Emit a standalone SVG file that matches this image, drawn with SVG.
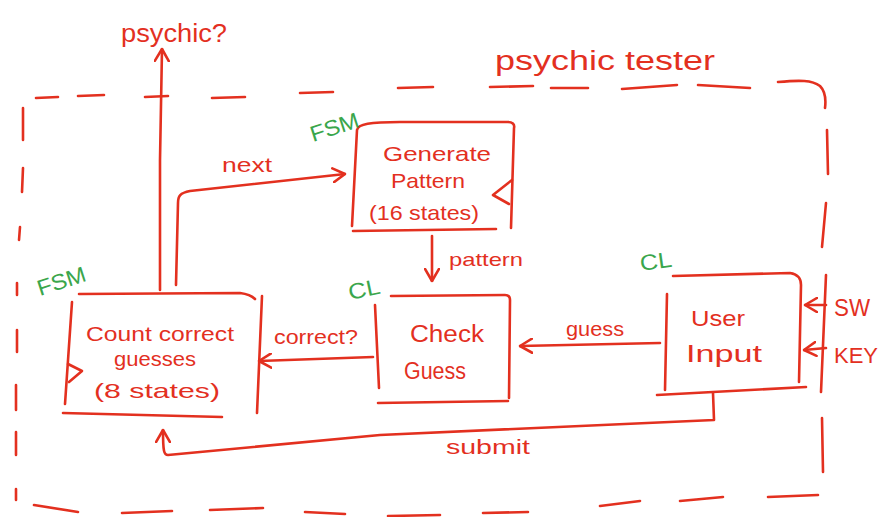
<svg xmlns="http://www.w3.org/2000/svg" width="881" height="517" viewBox="0 0 881 517">
<style>
.l{fill:none;stroke:#e3301f;stroke-width:2.6;stroke-linecap:round;stroke-linejoin:round}
.t{fill:#e3301f;font-family:"Liberation Sans","DejaVu Sans",sans-serif}
.g{fill:#3aa64c;font-family:"Liberation Sans","DejaVu Sans",sans-serif}
</style>
<defs>
<marker id="ah" viewBox="0 0 14 16" refX="13" refY="8" markerWidth="14" markerHeight="16" markerUnits="userSpaceOnUse" orient="auto">
<path d="M1,1 L13,8 L1,15" fill="none" stroke="#e3301f" stroke-width="2.6" stroke-linecap="round" stroke-linejoin="round"/>
</marker>
</defs>
<rect width="881" height="517" fill="#fff"/>

<g id="boundary">
<path class="l" d="M36,98 L58,97 M78,96 L104,95 M145,97 L168,96 M212,98 L245,97 M300,93 L333,92 M398,88 L433,87 M490,87 L533,86 M551,88 L588,88 M622,89 L677,85 M698,85 L750,88 M778,82 C800,80 812,80 820,86 C826,92 826,100 825,108"/>
<path class="l" d="M827,130 L828,174 M826,203 L822,247 M826,275 L821,392 M822,418 L823,472"/>
<path class="l" d="M768,497 L818,495 M680,501 L723,497 M600,506 L640,501 M483,513 L528,512 M388,516 L440,515 M305,512 L345,514 M210,510 L263,508 M122,513 L172,511 M34,505 L78,512"/>
<path class="l" d="M23,108 L23,140 M23,168 L22,192 M20,227 L19,240 M17,283 L17,295 M17,330 L17,352 M16,385 L16,410 M16,432 L16,455 M16,489 L16,500"/>
<text class="t" x="605" y="70" font-size="27" text-anchor="middle" textLength="220" lengthAdjust="spacingAndGlyphs">psychic tester</text>
</g>

<g id="generate">
<path class="l" d="M357,130 C358,124 370,122 400,122 L508,122 C512,122 515,124 514,128 L511,228 M357,130 L352,226 M353,231 L496,229"/>
<path class="l" d="M512,180 L493,195 L509,204"/>
<text class="t" x="437" y="161" font-size="21" text-anchor="middle" textLength="108" lengthAdjust="spacingAndGlyphs">Generate</text>
<text class="t" x="428" y="188" font-size="21" text-anchor="middle" textLength="74" lengthAdjust="spacingAndGlyphs">Pattern</text>
<text class="t" x="424" y="220" font-size="21" text-anchor="middle" textLength="110" lengthAdjust="spacingAndGlyphs">(16 states)</text>
<text class="g" x="313" y="142" font-size="22" transform="rotate(-18 313 142)" textLength="50" lengthAdjust="spacingAndGlyphs">FSM</text>
</g>

<g id="count">
<path class="l" d="M79,294 L240,293 C248,294 252,296 255,299 M262,296 L257,413 M72,302 L65,404 M63,413 L222,417"/>
<path class="l" d="M68,364 L82,371 L69,382"/>
<text class="t" x="160" y="341" font-size="20" text-anchor="middle" textLength="148" lengthAdjust="spacingAndGlyphs">Count correct</text>
<text class="t" x="155" y="366" font-size="20" text-anchor="middle" textLength="82" lengthAdjust="spacingAndGlyphs">guesses</text>
<text class="t" x="157" y="398" font-size="21" text-anchor="middle" textLength="126" lengthAdjust="spacingAndGlyphs">(8 states)</text>
<text class="g" x="40" y="296" font-size="22" transform="rotate(-18 40 296)" textLength="50" lengthAdjust="spacingAndGlyphs">FSM</text>
</g>

<g id="check">
<path class="l" d="M391,296 L505,295 C509,295 510,297 510,300 L509,398 M375,305 L379,388 M378,403 L508,401"/>
<text class="t" x="447" y="342" font-size="23" text-anchor="middle" textLength="74" lengthAdjust="spacingAndGlyphs">Check</text>
<text class="t" x="435" y="379" font-size="23" text-anchor="middle" textLength="62" lengthAdjust="spacingAndGlyphs">Guess</text>
<text class="g" x="350" y="300" font-size="22" transform="rotate(-12 350 300)" textLength="32" lengthAdjust="spacingAndGlyphs">CL</text>
</g>

<g id="user">
<path class="l" d="M673,276 L790,273 C797,274 801,278 801,285 L799,382 M667,294 L665,390 M657,395 L806,387"/>
<text class="t" x="718" y="326" font-size="22" text-anchor="middle" textLength="54" lengthAdjust="spacingAndGlyphs">User</text>
<text class="t" x="724" y="362" font-size="23" text-anchor="middle" textLength="76" lengthAdjust="spacingAndGlyphs">Input</text>
<text class="g" x="641" y="271" font-size="22" transform="rotate(-8 641 271)" textLength="32" lengthAdjust="spacingAndGlyphs">CL</text>
</g>

<g id="connectors">
<path class="l" marker-end="url(#ah)" d="M160,290 L160,160 L162,49"/>
<path class="l" marker-end="url(#ah)" d="M176,285 L178,203 C178,196 180,193 190,191 L345,174"/>
<path class="l" marker-end="url(#ah)" d="M432,236 L432,281"/>
<path class="l" marker-end="url(#ah)" d="M660,343 L520,346"/>
<path class="l" marker-end="url(#ah)" d="M373,357 L259,361"/>
<path class="l" marker-end="url(#ah)" d="M713,393 L714,420 L380,435 L168,455 C164,455 163,452 163,430"/>
<path class="l" marker-end="url(#ah)" d="M826,305 L805,305"/>
<path class="l" marker-end="url(#ah)" d="M826,348 L804,350"/>
<text class="t" x="247" y="172" font-size="20" text-anchor="middle" textLength="50" lengthAdjust="spacingAndGlyphs">next</text>
<text class="t" x="486" y="266" font-size="19" text-anchor="middle" textLength="74" lengthAdjust="spacingAndGlyphs">pattern</text>
<text class="t" x="316" y="344" font-size="20" text-anchor="middle" textLength="84" lengthAdjust="spacingAndGlyphs">correct?</text>
<text class="t" x="595" y="336" font-size="20" text-anchor="middle" textLength="58" lengthAdjust="spacingAndGlyphs">guess</text>
<text class="t" x="488" y="454" font-size="20" text-anchor="middle" textLength="84" lengthAdjust="spacingAndGlyphs">submit</text>
<text class="t" x="174" y="42" font-size="26" text-anchor="middle" textLength="106" lengthAdjust="spacingAndGlyphs">psychic?</text>
<text class="t" x="852" y="316" font-size="24" text-anchor="middle" textLength="36" lengthAdjust="spacingAndGlyphs">SW</text>
<text class="t" x="856" y="363" font-size="22" text-anchor="middle" textLength="44" lengthAdjust="spacingAndGlyphs">KEY</text>
</g>
</svg>
